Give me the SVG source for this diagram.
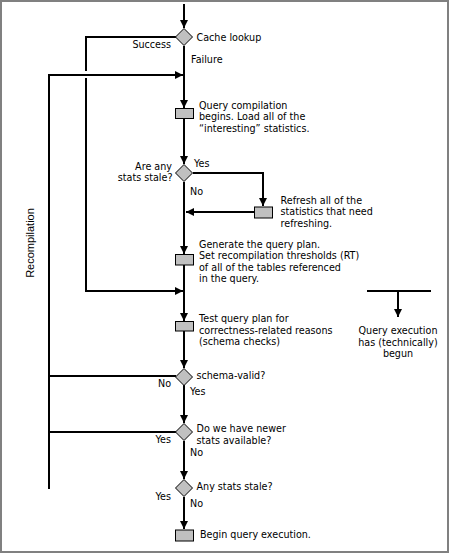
<svg xmlns="http://www.w3.org/2000/svg" width="450" height="554" viewBox="0 0 450 554">
<style>
text{font-family:"DejaVu Sans",Verdana,sans-serif;font-size:9.6px;fill:#000}
.r{text-anchor:end}
.m{text-anchor:middle}
.ln{fill:none;stroke:#000;stroke-width:2}
.ar{marker-end:url(#ah)}
.shape{fill:#c0c0c0;stroke:#000;stroke-width:1}
.rot{font-family:"Liberation Sans",Arial,sans-serif;font-size:11px}
</style>
<defs>
<marker id="ah" markerUnits="userSpaceOnUse" markerWidth="8" markerHeight="8" refX="8" refY="4" orient="auto">
<path d="M0,0 L8,4 L0,8 z" fill="#000"/>
</marker>
</defs>
<rect x="1" y="1" width="447" height="551" fill="#fff" stroke="#808080" stroke-width="2"/>

<g id="connectors">
<path class="ln ar" d="M184,4 V28"/>
<path class="ln" d="M176,37 H86 V71"/>
<path class="ln ar" d="M86,78 V291 H183"/>
<path class="ln ar" d="M49,489 V75 H183"/>
<path class="ln" d="M49,376 H176"/>
<path class="ln" d="M49,432 H176"/>
<path class="ln ar" d="M184,46 V108"/>
<path class="ln ar" d="M184,118 V164"/>
<path class="ln ar" d="M193,173 H263 V206"/>
<path class="ln ar" d="M254,212 H186"/>
<path class="ln ar" d="M184,182 V254"/>
<path class="ln ar" d="M184,265 V321"/>
<path class="ln ar" d="M184,331 V368"/>
<path class="ln ar" d="M184,385 V423"/>
<path class="ln ar" d="M184,441 V479"/>
<path class="ln ar" d="M184,497 V529"/>
<text class="rot" transform="rotate(-90 34 243)" x="34" y="243" text-anchor="middle">Recompilation</text>
</g>

<g id="cache-lookup">
<polygon class="shape" points="184,28.5 192.5,37 184,45.5 175.5,37"/>
<text x="196.5" y="40.5">Cache lookup</text>
<text class="r" x="171" y="47.5">Success</text>
<text x="191" y="62.5">Failure</text>
</g>

<g id="query-compilation">
<rect class="shape" x="175.5" y="108.5" width="18" height="10"/>
<text x="199" y="108.5">Query compilation</text>
<text x="199" y="120">begins. Load all of the</text>
<text x="199" y="131.5">“interesting” statistics.</text>
</g>

<g id="stats-stale-1">
<polygon class="shape" points="184,164.5 192.5,173 184,181.5 175.5,173"/>
<text class="r" x="172" y="169.5">Are any</text>
<text class="r" x="172.5" y="181">stats stale?</text>
<text x="194" y="167">Yes</text>
<text x="190" y="195">No</text>
</g>

<g id="refresh">
<rect class="shape" x="254.5" y="207" width="18" height="11"/>
<text x="280.5" y="203.5">Refresh all of the</text>
<text x="280.5" y="215">statistics that need</text>
<text x="280.5" y="226.5">refreshing.</text>
</g>

<g id="generate-plan">
<rect class="shape" x="175.5" y="254.5" width="18" height="10.5"/>
<text x="199" y="247.5">Generate the query plan.</text>
<text x="199" y="259">Set recompilation thresholds (RT)</text>
<text x="199" y="270.5">of all of the tables referenced</text>
<text x="199" y="282">in the query.</text>
</g>

<g id="test-plan">
<rect class="shape" x="175.5" y="321.5" width="18" height="9.5"/>
<text x="199" y="322">Test query plan for</text>
<text x="199" y="333.5">correctness-related reasons</text>
<text x="199" y="345">(schema checks)</text>
</g>

<g id="legend">
<path class="ln" d="M367,291 H431"/>
<path class="ln ar" d="M398,291 V317"/>
<text class="m" x="398" y="334">Query execution</text>
<text class="m" x="398" y="345.5">has (technically)</text>
<text class="m" x="398" y="357">begun</text>
</g>

<g id="schema-valid">
<polygon class="shape" points="184,368.5 192.5,377 184,385.5 175.5,377"/>
<text x="196.5" y="378.5">schema-valid?</text>
<text class="r" x="171" y="387">No</text>
<text x="190" y="394.5">Yes</text>
</g>

<g id="newer-stats">
<polygon class="shape" points="184,423.5 192.5,432 184,440.5 175.5,432"/>
<text x="196.5" y="432">Do we have newer</text>
<text x="196.5" y="443.5">stats available?</text>
<text class="r" x="171" y="442.5">Yes</text>
<text x="190" y="456">No</text>
</g>

<g id="stats-stale-2">
<polygon class="shape" points="184,479.5 192.5,488 184,496.5 175.5,488"/>
<text x="196.5" y="489.5">Any stats stale?</text>
<text class="r" x="171" y="499.5">Yes</text>
<text x="190" y="507">No</text>
</g>

<g id="begin-execution">
<rect class="shape" x="175.5" y="530" width="18" height="11"/>
<text x="200" y="538">Begin query execution.</text>
</g>
</svg>
